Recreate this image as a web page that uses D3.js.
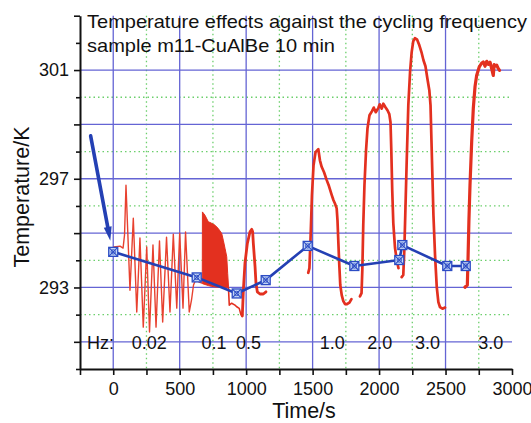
<!DOCTYPE html>
<html>
<head>
<meta charset="utf-8">
<script src="https://cdn.jsdelivr.net/npm/d3@7"></script>
<style>
  html, body { margin: 0; padding: 0; background: #fff; }
  svg { display: block; font-family: "Liberation Sans", Arial, Helvetica, sans-serif; }
</style>
</head>
<body>
<svg id="chart" width="531" height="423"></svg>
<script>
// ---- axis ranges, ticks and grid ----
const xDomain = [-250, 3000];
const yDomain = [290, 303];
const xTickValues = [-250, 0, 250, 500, 750, 1000, 1250, 1500, 1750, 2000, 2250, 2500, 2750, 3000];
const xTickLabels = [0, 500, 1000, 1500, 2000, 2500, 3000];
const yTickValues = [290, 291, 292, 293, 294, 295, 296, 297, 298, 299, 300, 301, 302, 303];
const yTickLabels = [293, 297, 301];
const xMajorGrid = [0, 500, 1000, 1500, 2000, 2500];
const xMinorGrid = [250, 750, 1250, 1750, 2250, 2750];
const yMajorGrid = [291, 293, 295, 297, 299, 301];
const yMinorGrid = [292, 294, 296, 298, 300];

// ---- measured sample temperature [time s, T K], one run per cycling frequency ----
const run002 = [[6, 294.49], [51, 294.52], [74, 294.45], [85, 294.93], [96, 296.76], [126, 292.90],
  [151, 295.55], [177, 292.10], [201, 294.82], [226, 291.54], [252, 294.49], [273, 291.36],
  [299, 294.56], [322, 291.54], [348, 294.71], [372, 291.73], [401, 294.85], [427, 292.10],
  [452, 294.96], [478, 292.24], [500, 295.00], [525, 292.24], [544, 295.04], [572, 292.10],
  [589, 292.54], [604, 293.09], [623, 293.31], [645, 293.20], [668, 293.16]];

// 0.1 Hz run: oscillation too fast to resolve, drawn as its envelope
const band01Time  = [670, 671, 690, 715, 741, 766, 790, 816, 828, 841, 854, 861, 867];
const band01Upper = [293.60, 295.78, 295.66, 295.42, 295.36, 295.29, 295.17, 294.99, 294.74, 294.44, 294.13, 293.52, 293.05];
const band01Lower = [293.16, 293.14, 293.11, 293.07, 293.04, 293.02, 293.01, 293.00, 293.00, 293.00, 293.00, 292.99, 292.98];

const run01Tail = [[867, 292.98], [873, 292.35], [891, 292.42], [916, 292.35], [929, 292.29],
  [948, 292.23], [961, 291.99], [971, 291.95]];

const run05 = [[971, 291.95], [979, 292.90], [991, 293.89], [1009, 294.62], [1029, 295.05],
  [1042, 295.14], [1049, 295.05], [1054, 294.62], [1067, 293.76], [1074, 293.15], [1084, 292.84],
  [1104, 292.76], [1129, 292.76], [1149, 292.84]];

const run10 = [[1467, 293.54], [1476, 293.71], [1484, 294.74], [1495, 296.40], [1507, 297.50],
  [1522, 297.98], [1543, 298.09], [1555, 297.68], [1568, 297.44], [1586, 297.24], [1606, 296.95],
  [1623, 296.73], [1644, 296.40], [1657, 296.21], [1668, 296.09], [1681, 295.91], [1687, 295.48],
  [1693, 294.74], [1700, 293.90], [1708, 293.09], [1719, 292.72], [1731, 292.50], [1744, 292.39],
  [1759, 292.39], [1777, 292.44], [1792, 292.57]];

const run20 = [[1856, 292.67], [1868, 292.79], [1874, 293.64], [1881, 295.29], [1890, 296.76],
  [1902, 298.05], [1913, 298.86], [1928, 299.34], [1947, 299.49], [1960, 299.62], [1975, 299.45],
  [1994, 299.60], [2005, 299.74], [2020, 299.58], [2032, 299.76], [2048, 299.63], [2063, 299.52],
  [2077, 299.38], [2086, 299.08], [2092, 298.05], [2099, 296.58], [2107, 295.37], [2120, 294.45],
  [2133, 294.01], [2146, 293.71]];

const run30a = [[2170, 293.38], [2182, 293.46], [2190, 294.38], [2197, 295.66], [2208, 297.68],
  [2220, 299.71], [2233, 300.92], [2245, 301.65], [2257, 302.06], [2270, 302.17], [2285, 302.13],
  [2303, 301.91], [2321, 301.62], [2334, 301.36], [2349, 301.14], [2363, 300.70], [2378, 300.26],
  [2387, 299.71], [2394, 298.42], [2402, 296.95], [2409, 295.66], [2421, 294.19], [2434, 293.01],
  [2446, 292.46], [2458, 292.28], [2477, 292.22], [2496, 292.26]];

const run30b = [[2646, 293.01], [2664, 293.09], [2669, 294.01], [2676, 295.48], [2684, 296.76],
  [2697, 298.40], [2709, 299.60], [2722, 300.40], [2734, 300.80], [2754, 301.12], [2771, 301.25],
  [2784, 301.30], [2797, 301.14], [2810, 301.32], [2823, 301.21], [2835, 301.29], [2846, 301.07],
  [2859, 300.80], [2866, 301.20], [2872, 301.14], [2885, 301.18], [2895, 301.07], [2906, 300.99]];

// ---- mean temperature per run (blue curve) ----
const summaryTime = [0, 628, 929, 1147, 1463, 1814, 2152, 2175, 2513, 2652];
const summaryTemp = [294.31, 293.37, 292.78, 293.27, 294.53, 293.79, 294.01, 294.56, 293.79, 293.79];
const arrowFrom = [-170, 298.58];
const arrowTo = [-22, 294.72];

// ---- frequency annotations ----
const hzLabels = ["Hz:", "0.02", "0.1", "0.5", "1.0", "2.0", "3.0", "3.0"];
const hzTimes  = [-197, 139, 665, 924, 1553, 1911, 2270, 2746];
const hzTemp = 290.72;

const titleLines = ["Temperature effects against the cycling frequency", "sample m11-CuAlBe 10 min"];

// ---- drawing ----
const svg = d3.select("#chart");
const x = d3.scaleLinear().domain(xDomain).range([80, 512]);
const y = d3.scaleLinear().domain(yDomain).range([369, 15.7]);

const gridBlue = "#6464d4";
const gridGreen = "#6ccf6c";
const red = "#e3301f";
const blue = "#2440b4";

// grid
const grid = svg.append("g");
grid.selectAll(".gxm").data(xMinorGrid).join("line")
  .attr("x1", d => x(d)).attr("x2", d => x(d)).attr("y1", y(303)).attr("y2", y(290))
  .attr("stroke", gridGreen).attr("stroke-width", 1.3).attr("stroke-dasharray", "1.5,3");
grid.selectAll(".gym").data(yMinorGrid).join("line")
  .attr("x1", x(-250)).attr("x2", x(3000)).attr("y1", d => y(d)).attr("y2", d => y(d))
  .attr("stroke", gridGreen).attr("stroke-width", 1.3).attr("stroke-dasharray", "1.5,3");
grid.selectAll(".gxM").data(xMajorGrid).join("line")
  .attr("x1", d => x(d)).attr("x2", d => x(d)).attr("y1", y(303)).attr("y2", y(290))
  .attr("stroke", gridBlue).attr("stroke-width", 1.3);
grid.selectAll(".gyM").data(yMajorGrid).join("line")
  .attr("x1", x(-250)).attr("x2", x(3000)).attr("y1", d => y(d)).attr("y2", d => y(d))
  .attr("stroke", gridBlue).attr("stroke-width", 1.3);

// title
svg.append("text").attr("x", 87).attr("y", 28).attr("font-size", 18.5).attr("fill", "#111")
  .attr("textLength", 440).attr("lengthAdjust", "spacingAndGlyphs").text(titleLines[0]);
svg.append("text").attr("x", 87).attr("y", 52).attr("font-size", 18.5).attr("fill", "#111")
  .attr("textLength", 248).attr("lengthAdjust", "spacingAndGlyphs").text(titleLines[1]);

// frequency labels
svg.append("g").selectAll("text").data(hzLabels).join("text")
  .attr("x", (d, i) => x(hzTimes[i])).attr("y", y(hzTemp))
  .attr("font-size", 18).attr("fill", "#111").text(d => d);

// temperature record
const line = d3.line().x(d => x(d[0])).y(d => y(d[1]));
const traces = svg.append("g").attr("fill", "none").attr("stroke-linejoin", "round").attr("stroke-linecap", "round");
traces.append("path").datum(run002).attr("d", line).attr("stroke", "#e8412f").attr("stroke-width", 1.4);
traces.append("path").datum(band01Time.map((t, i) => [t, band01Lower[i], band01Upper[i]]))
  .attr("d", d3.area().x(d => x(d[0])).y0(d => y(d[1])).y1(d => y(d[2])))
  .attr("fill", red).attr("stroke", red).attr("stroke-width", 1);
traces.append("path").datum(run01Tail).attr("d", line).attr("stroke", red).attr("stroke-width", 1.6);
traces.append("path").datum(run05).attr("d", line).attr("stroke", red).attr("stroke-width", 2.8);
[run10, run20, run30a].forEach(run => {
  traces.append("path").datum(run).attr("d", line).attr("stroke", red).attr("stroke-width", 2.7);
});
traces.append("path").datum(run30b).attr("d", line).attr("stroke", red).attr("stroke-width", 3.2);

// mean-temperature curve with markers
const summary = summaryTime.map((t, i) => [t, summaryTemp[i]]);
svg.append("path").datum(summary).attr("d", line)
  .attr("fill", "none").attr("stroke", blue).attr("stroke-width", 2.6).attr("stroke-linejoin", "round");
const mk = svg.append("g").selectAll("g").data(summary).join("g")
  .attr("transform", d => `translate(${x(d[0])},${y(d[1])})`);
mk.append("rect").attr("x", -4.5).attr("y", -4.5).attr("width", 9).attr("height", 9)
  .attr("fill", "#c4d6f6").attr("stroke", "#2c4cc4").attr("stroke-width", 1.3);
mk.append("path").attr("d", "M-4,-4L4,4M-4,4L4,-4").attr("stroke", "#2c4cc4").attr("stroke-width", 1.1);
mk.append("circle").attr("r", 2.2).attr("fill", "none").attr("stroke", "#2c4cc4").attr("stroke-width", 0.9);

// arrow pointing at the starting temperature
const ax0 = x(arrowFrom[0]), ay0 = y(arrowFrom[1]);
const ax1 = x(arrowTo[0]), ay1 = y(arrowTo[1]);
const ang = Math.atan2(ay1 - ay0, ax1 - ax0);
const headLen = 14, headHalf = 4;
const bx = ax1 - headLen * Math.cos(ang), by = ay1 - headLen * Math.sin(ang);
svg.append("line").attr("x1", ax0).attr("y1", ay0).attr("x2", bx + 2 * Math.cos(ang)).attr("y2", by + 2 * Math.sin(ang))
  .attr("stroke", blue).attr("stroke-width", 3.6).attr("stroke-linecap", "round");
svg.append("path")
  .attr("d", `M${ax1},${ay1}L${bx - headHalf * Math.sin(ang)},${by + headHalf * Math.cos(ang)}L${bx + headHalf * Math.sin(ang)},${by - headHalf * Math.cos(ang)}Z`)
  .attr("fill", blue);

// axes
const xAxis = svg.append("g").attr("transform", `translate(0,${y(290)})`)
  .call(d3.axisBottom(x).tickValues(xTickValues).tickSize(6).tickSizeOuter(0)
    .tickFormat(d => xTickLabels.includes(d) ? d : ""));
const yAxis = svg.append("g").attr("transform", `translate(${x(-250)},0)`)
  .call(d3.axisLeft(y).tickValues(yTickValues).tickSize(6).tickSizeOuter(0)
    .tickFormat(d => yTickLabels.includes(d) ? d : ""));
[xAxis, yAxis].forEach(a => {
  a.select(".domain").attr("stroke", "#111").attr("stroke-width", 2);
  a.selectAll(".tick line").attr("stroke", "#111").attr("stroke-width", 1.6);
  a.selectAll(".tick text").attr("font-size", 18).attr("fill", "#111")
    .attr("font-family", "'Liberation Sans', Arial, Helvetica, sans-serif");
});
yAxis.selectAll(".tick line").attr("x2", d => (d % 2 === 1 ? -6 : -4));
yAxis.selectAll(".tick text").attr("x", -11);
xAxis.selectAll(".tick text").attr("y", 13);

// axis titles
svg.append("text").attr("x", 304).attr("y", 418).attr("text-anchor", "middle")
  .attr("font-size", 21.5).attr("fill", "#111").text("Time/s");
svg.append("text").attr("transform", "translate(29,197) rotate(-90)").attr("text-anchor", "middle")
  .attr("font-size", 21.5).attr("fill", "#111").text("Temperature/K");
</script>
</body>
</html>
